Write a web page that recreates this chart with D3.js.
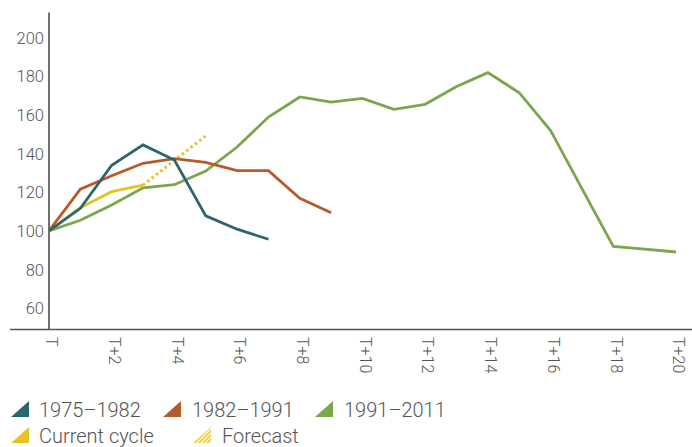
<!DOCTYPE html>
<html><head><meta charset="utf-8">
<script src="https://cdn.jsdelivr.net/npm/d3@7"></script>
<style>
body{margin:0;background:#fff;}
text{font-family:Roboto,"DejaVu Sans",sans-serif;font-weight:300;fill:#555;}
</style></head><body>
<svg id="c" width="692" height="447"></svg>
<script>
const xTickValues = [0,2,4,6,8,10,12,14,16,18,20];
const xTickLabels = ["T","T+2","T+4","T+6","T+8","T+10","T+12","T+14","T+16","T+18","T+20"];
const yTickValues = [60,80,100,120,140,160,180,200];

const s1975 = [100,111.7,134,144.5,136.7,107.8,100.9,95.7];
const s1982 = [100,121.6,128.5,135,137.4,135.5,131.2,131.2,116.9,109.4];
const s1991 = [100,105.5,113.4,122.3,123.9,131,143.4,158.9,169.3,166.6,168.6,162.9,165.5,174.7,181.9,171.5,151.9,121.9,92,90.6,89.1];
const sCurrent = [100,112,120.3,123.7];
const sForecast = [null,null,null,123.7,136.5,149.2];

const seriesNames = ["1975–1982","1982–1991","1991–2011","Current cycle","Forecast"];
const colors = {"1975–1982":"#2b666c","1982–1991":"#b65a2c","1991–2011":"#7aa64c","Current cycle":"#e6c325","Forecast":"#e6c325"};

const svg = d3.select("#c");
const x = d3.scaleLinear().domain([0,20]).range([49,676]);
const y = d3.scaleLinear().domain([49,213]).range([329.5,12.5]);

// y axis
svg.append("line").attr("x1",x(0)).attr("x2",x(0)).attr("y1",y(213)).attr("y2",y(49))
  .attr("stroke","#6f6f6f").attr("stroke-width",2);
// x axis line
svg.append("line").attr("x1",10).attr("x2",692).attr("y1",y(49)).attr("y2",y(49))
  .attr("stroke","#555").attr("stroke-width",1.6);

svg.append("g").selectAll("text").data(yTickValues).join("text")
  .attr("x",44).attr("y",d=>y(d)).attr("dy","0.36em").attr("text-anchor","end")
  .style("font-size","16.5px").text(d=>d);

svg.append("g").selectAll("text").data(xTickValues).join("text")
  .attr("transform",d=>`translate(${x(d)+3},337) rotate(90)`)
  .attr("dy","0.36em").attr("text-anchor","start")
  .style("font-size","16px").text((d,i)=>xTickLabels[i]);

const line = d3.line().defined(d=>d!=null).x((d,i)=>x(i)).y(d=>y(d));
function draw(data,name,dash){
  svg.append("path").datum(data).attr("d",line).attr("fill","none")
    .attr("stroke",colors[name]).attr("stroke-width",dash?3:2.8)
    .attr("stroke-linejoin","miter").attr("stroke-dasharray",dash||null);
}
draw(s1991,"1991–2011");
draw(sForecast,"Forecast","2.5,3");
draw(sCurrent,"Current cycle");
draw(s1982,"1982–1991");
draw(s1975,"1975–1982");

// legend
const defs = svg.append("defs");
const pat = defs.append("pattern").attr("id","hatch").attr("patternUnits","userSpaceOnUse")
  .attr("width",3).attr("height",3).attr("patternTransform","rotate(45)");
pat.append("rect").attr("width",1.6).attr("height",3).attr("fill","#e6c325");

const legendItems = [
  {name:"1975–1982",row:0,tx:11,lx:39},
  {name:"1982–1991",row:0,tx:163,lx:192},
  {name:"1991–2011",row:0,tx:315,lx:344},
  {name:"Current cycle",row:1,tx:11,lx:39},
  {name:"Forecast",row:1,tx:193,lx:222}
];
const rowBase = [417,443];
const lg = svg.append("g");
legendItems.forEach(it=>{
  const b = rowBase[it.row];
  lg.append("path").attr("d",`M${it.tx},${b} L${it.tx+18},${b-16} L${it.tx+18},${b} Z`)
    .attr("fill", it.name==="Forecast" ? "url(#hatch)" : colors[it.name]);
  lg.append("text").attr("x",it.lx).attr("y",b).style("font-size","20px").text(it.name);
});
</script></body></html>
